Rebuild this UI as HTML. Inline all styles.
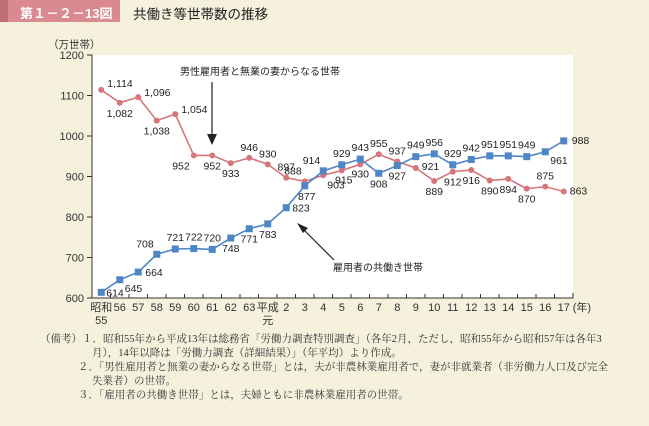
<!DOCTYPE html>
<html><head><meta charset="utf-8">
<style>
body{margin:0;background:#f5f1dd;font-family:"Liberation Sans","Noto Sans CJK JP",sans-serif;}
#wrap{position:relative;width:649px;height:426px;overflow:hidden;background:#f5f1dd;}
.note{position:absolute;font-family:"Liberation Serif","Noto Serif CJK SC",serif;font-size:10.5px;color:#333;white-space:nowrap;}
</style></head><body>
<div id="wrap">
<div style="position:absolute;left:0;top:0;width:120px;height:22px;background:#d9898f;">
 <div style="position:absolute;left:0;top:0;width:8px;height:22px;background:#c06d76;"></div>
 <div style="position:absolute;left:20px;top:3px;color:#fff;font-size:13px;font-weight:bold;">第１－２－13図</div>
</div>
<div style="position:absolute;left:133px;top:3px;font-size:13.5px;color:#222;">共働き等世帯数の推移</div>
<svg id="chart" width="649" height="330" style="position:absolute;left:0;top:0"></svg>
<div class="note" style="left:40px;top:331px;">（備考）１．昭和55年から平成13年は総務省「労働力調査特別調査」（各年2月，ただし，昭和55年から昭和57年は各年3</div>
<div class="note" style="left:92px;top:345px;">月），14年以降は「労働力調査（詳細結果）」（年平均）より作成。</div>
<div class="note" style="left:78px;top:359px;">２．「男性雇用者と無業の妻からなる世帯」とは，夫が非農林業雇用者で，妻が非就業者（非労働力人口及び完全</div>
<div class="note" style="left:92px;top:373px;">失業者）の世帯。</div>
<div class="note" style="left:78px;top:387px;">３．「雇用者の共働き世帯」とは，夫婦ともに非農林業雇用者の世帯。</div>
</div>
<script>
const categories=["昭和\n55","56","57","58","59","60","61","62","63","平成\n元","2","3","4","5","6","7","8","9","10","11","12","13","14","15","16","17"];
const maleSoleEarner=[1114,1082,1096,1038,1054,952,952,933,946,930,897,888,903,915,930,955,937,921,889,912,916,890,894,870,875,863];
const dualIncome=[614,645,664,708,721,722,720,748,771,783,823,877,914,929,943,908,927,949,956,929,942,951,951,949,961,988];
const yTicks=[600,700,800,900,1000,1100,1200];
// label placement (style only): [dx,dy,anchor]
const redPos=[[6,-3,"start"],[0,14,"middle"],[6,-1,"start"],[0,14,"middle"],[6,-1,"start"],[-4,14,"end"],[0,14,"middle"],[0,14,"middle"],[0,-7,"middle"],[0,-7,"middle"],[0,-7,"middle"],[-3,-7,"end"],[4,13,"start"],[2,13,"middle"],[0,13,"middle"],[0,-7,"middle"],[0,-7,"middle"],[6,2,"start"],[0,14,"middle"],[0,14,"middle"],[0,14,"middle"],[0,14,"middle"],[0,14,"middle"],[0,14,"middle"],[0,-7,"middle"],[6,3,"start"]];
const bluePos=[[5,4,"start"],[5,12,"start"],[7,4,"start"],[-3,-7,"end"],[0,-8,"middle"],[0,-8,"middle"],[0,-8,"middle"],[0,14,"middle"],[0,14,"middle"],[0,14,"middle"],[6,4,"start"],[2,14,"middle"],[-3,-7,"end"],[0,-8,"middle"],[0,-8,"middle"],[0,14,"middle"],[0,14,"middle"],[0,-8,"middle"],[0,-8,"middle"],[0,-8,"middle"],[0,-8,"middle"],[0,-8,"middle"],[0,-8,"middle"],[0,-8,"middle"],[5,12,"start"],[8,3,"start"]];
const NS="http://www.w3.org/2000/svg";
const svg=document.getElementById('chart');
const L=92,R=573,T=55,B=298,ymin=600,ymax=1200;
const step=(R-L)/categories.length;
const xs=i=>L+step*(i+0.5);
const ys=v=>B-(v-ymin)/(ymax-ymin)*(B-T);
function mk(t,a,p){const e=document.createElementNS(NS,t);for(const k in a)e.setAttribute(k,a[k]);(p||svg).appendChild(e);return e;}
const bg=mk('rect',{x:L,y:T,width:R-L,height:B-T,fill:'#fff'});


const ax=mk('path',{d:`M${L-5},${T}H${L}V${B}H${R}V${B-5}`,stroke:'#333',fill:'none','stroke-width':1});


yTicks.forEach(v=>{
 mk('line',{x1:L-5,x2:L,y1:ys(v),y2:ys(v),stroke:'#333'});
 const t=mk('text',{x:L-8,y:ys(v)+4,'text-anchor':'end','font-size':11,fill:'#333'});t.textContent=v;
 
 
});
const yt=mk('text',{x:48,y:48,'font-size':10.5,fill:'#333'});yt.textContent='（万世帯）';


categories.forEach((c,i)=>{
 mk('line',{x1:L+step*(i+1),x2:L+step*(i+1),y1:B,y2:B-4,stroke:'#333'});
 c.split('\n').forEach((s,j)=>{
  const t=mk('text',{x:xs(i),y:B+13+j*13,'text-anchor':'middle','font-size':11,fill:'#333'});t.textContent=s;
  
  
 });
});
const yr=mk('text',{x:xs(25)+9,y:B+13,'font-size':11,fill:'#333'});yr.textContent='(年)';


function series(vals,pos,color,name,square){
 const pl=mk('polyline',{points:vals.map((v,i)=>xs(i)+','+ys(v)).join(' '),fill:'none',stroke:color,'stroke-width':1.6});
 
 
 vals.forEach((v,i)=>{
  let m;
  if(square) m=mk('rect',{x:xs(i)-3.5,y:ys(v)-3.5,width:7,height:7,fill:color});
  else m=mk('circle',{cx:xs(i),cy:ys(v),r:3,fill:color});
  
  
  const p=pos[i];
  const t=mk('text',{x:xs(i)+p[0],y:ys(v)+p[1],'text-anchor':p[2],'font-size':10.5,fill:'#222'});
  t.textContent=v>=1000?v.toLocaleString('en-US'):String(v);
  
  
 });
}
series(maleSoleEarner,redPos,'#d5767c','male-sole-earner',false);
series(dualIncome,bluePos,'#4f86c6','dual-income',true);
const a1=mk('text',{x:180,y:75,'font-size':10,fill:'#222'});a1.textContent='男性雇用者と無業の妻からなる世帯';


mk('line',{x1:212,y1:82,x2:212,y2:143,stroke:'#222','stroke-width':1.2});
mk('path',{d:'M207,134L212,145L217,134Z',fill:'#222'});
const a2=mk('text',{x:333,y:271,'font-size':10,fill:'#222'});a2.textContent='雇用者の共働き世帯';


mk('line',{x1:334,y1:260,x2:300,y2:226,stroke:'#222','stroke-width':1.2});
mk('path',{d:'M297,223L308,228L303,233Z',fill:'#222'});
</script>
</body></html>
